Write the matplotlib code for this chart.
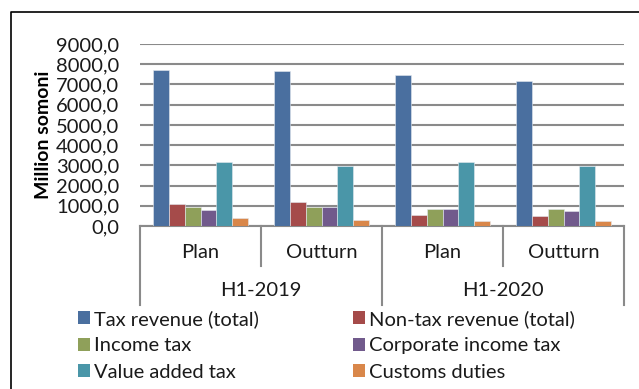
import matplotlib
matplotlib.use("Agg")
import matplotlib.pyplot as plt
import matplotlib.transforms as mtransforms
from matplotlib.lines import Line2D
from matplotlib.patches import Patch
import numpy as np

plt.rcParams['font.family'] = ['Lato', 'DejaVu Sans']

# budget revenue, million somoni
periods = ["H1-2019", "H1-2020"]
stages = ["Plan", "Outturn", "Plan", "Outturn"]
series_names = ["Tax revenue (total)", "Non-tax revenue (total)", "Income tax",
                "Corporate income tax", "Value added tax", "Customs duties"]
tax_revenue = [7720, 7660, 7480, 7170]
non_tax_revenue = [1090, 1190, 545, 495]
income_tax = [925, 955, 825, 840]
corporate_tax = [805, 925, 840, 745]
vat = [3180, 2985, 3165, 2985]
customs = [380, 300, 250, 265]
yticks = [0, 1000, 2000, 3000, 4000, 5000, 6000, 7000, 8000, 9000]

series = [tax_revenue, non_tax_revenue, income_tax, corporate_tax, vat, customs]
colors = ["#4a6f9f", "#a54b4a", "#8fa05a", "#715a8c", "#4a96a8", "#d9874a"]

FS = 14.5
W, H = 639, 389
fig = plt.figure(figsize=(W / 100, H / 100), dpi=100)
ax = fig.add_axes([140 / W, 1 - 226 / H, 484 / W, 182 / H])

x = np.arange(len(stages))
bw = 0.132
for i, (vals, c) in enumerate(zip(series, colors)):
    ax.bar(x + (i - 2.5) * bw, vals, bw, color=c, edgecolor="#e4e9ef",
           linewidth=0.4, zorder=3)

ax.set_xlim(-0.5, len(stages) - 0.5)
ax.set_ylim(0, 9000)
ax.set_yticks(yticks)
ax.set_yticklabels([f"{v:.1f}".replace(".", ",") for v in yticks],
                   fontsize=FS, color="#1a1a1a")
ax.tick_params(axis="y", length=0, pad=15)
ax.set_xticks([])
for s in ["top", "right", "left"]:
    ax.spines[s].set_visible(False)
ax.spines["bottom"].set_color("#8a8a8a")
ax.spines["bottom"].set_linewidth(1.5)
ax.yaxis.grid(True, color="#8a8a8a", linewidth=1.5, zorder=0)
ax.set_ylabel("Million somoni", fontsize=14, fontweight="bold", labelpad=3)

# two-level category axis below the plot
tr = mtransforms.blended_transform_factory(ax.transData, fig.transFigure)
def fy(px):
    return 1 - px / H

for b in [-0.5, 0.5, 1.5, 2.5, 3.5]:
    outer = b in (-0.5, 1.5, 3.5)
    bottom = 305 if outer else 266
    ax.add_line(Line2D([b, b], [fy(226), fy(bottom)], transform=tr,
                       color="#8a8a8a", linewidth=1.5, clip_on=False))
for xi, lab in zip(x, stages):
    ax.text(xi, fy(252), lab, transform=tr, ha="center", va="center",
            fontsize=FS, color="#1a1a1a")
for j, lab in enumerate(periods):
    ax.text(0.5 + 2 * j, fy(290), lab, transform=tr, ha="center", va="center",
            fontsize=FS, color="#1a1a1a")

# legend, filled row by row
order = [0, 2, 4, 1, 3, 5]
handles = [Patch(facecolor=colors[k], edgecolor="none") for k in order]
labels = [series_names[k] for k in order]
fig.legend(handles, labels, ncol=2, loc="upper left",
           bbox_to_anchor=(68 / W, fy(300)), frameon=False, fontsize=FS,
           handlelength=0.6, handleheight=0.6, handletextpad=0.2,
           labelspacing=0.47, columnspacing=4.65, borderpad=0,
           labelcolor="#1a1a1a")

# outer frame
fig.add_artist(Line2D([11 / W, 11 / W, 1], [0, fy(12), fy(12)],
                      transform=fig.transFigure, color="black", linewidth=1.2))

fig.savefig("out.png", dpi=100)
